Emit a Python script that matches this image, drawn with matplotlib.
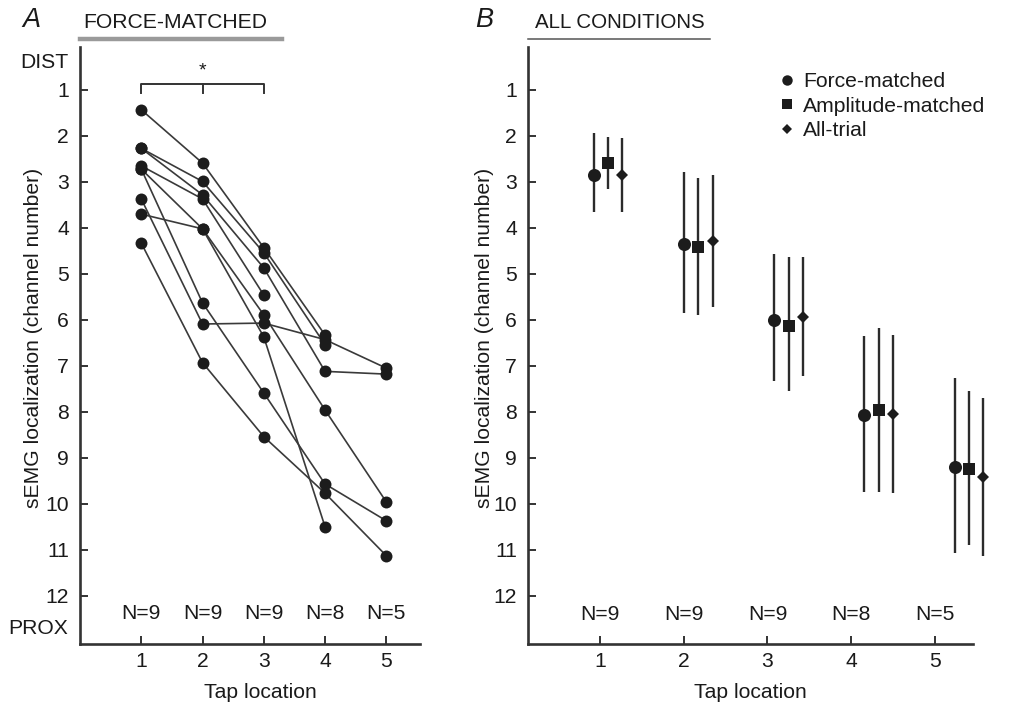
import numpy as np
import matplotlib
matplotlib.use('Agg')
import matplotlib.pyplot as plt
from matplotlib.lines import Line2D

plt.rcParams['font.family'] = ['Liberation Sans', 'DejaVu Sans']

# ---------------- data ----------------
taps = [1, 2, 3, 4, 5]
n_labels = ['N=9', 'N=9', 'N=9', 'N=8', 'N=5']

# Panel A: force-matched localization per subject (channel number), nan = no data
subj1 = [1.43, 2.59, 4.43, 6.33, np.nan]
subj2 = [2.27, 2.99, 4.54, 6.54, np.nan]
subj3 = [2.27, 3.28, 4.87, 7.12, 7.18]
subj4 = [2.65, 3.37, 5.46, np.nan, np.nan]
subj5 = [2.72, 4.02, 5.89, 7.96, 9.96]
subj6 = [2.72, 5.63, 7.59, 9.57, 10.37]
subj7 = [3.37, 6.09, 6.07, 6.43, 7.05]
subj8 = [3.70, 4.02, 6.37, 10.50, np.nan]
subj9 = [4.33, 6.93, 8.54, 9.77, 11.13]

# Panel B: means with error bar ends (low = distal end, high = proximal end)
fm_mean = [2.85, 4.36, 6.01, 8.08, 9.19]
fm_low = [1.94, 2.78, 4.57, 6.36, 7.27]
fm_high = [3.66, 5.84, 7.34, 9.74, 11.07]

am_mean = [2.59, 4.42, 6.14, 7.97, 9.24]
am_low = [2.03, 2.92, 4.64, 6.17, 7.54]
am_high = [3.16, 5.90, 7.54, 9.74, 10.89]

at_mean = [2.85, 4.29, 5.94, 8.04, 9.41]
at_low = [2.05, 2.85, 4.64, 6.32, 7.69]
at_high = [3.66, 5.72, 7.23, 9.76, 11.13]

series_names = ['Force-matched', 'Amplitude-matched', 'All-trial']

# ---------------- layout / style ----------------
W, H = 1018, 708
fig = plt.figure(figsize=(W / 100, H / 100), dpi=100)


def fx(px):
    return px / W


def fy(py):
    return 1 - py / H


axA = fig.add_axes([fx(80), fy(644), fx(420) - fx(80), fy(47) - fy(644)])
axB = fig.add_axes([fx(528), fy(644), fx(973) - fx(528), fy(47) - fy(644)])

AX_COL = '#333333'
MK_COL = '#1c1c1c'
LN_COL = '#3a3a3a'
TXT_COL = '#1a1a1a'
FS = 15.2

for ax in (axA, axB):
    for s in ('top', 'right'):
        ax.spines[s].set_visible(False)
    for s in ('left', 'bottom'):
        ax.spines[s].set_linewidth(1.9)
        ax.spines[s].set_color(AX_COL)
    ax.tick_params(direction='in', length=6, width=1.4, color=AX_COL,
                   labelsize=FS, labelcolor=TXT_COL)
    ax.tick_params(axis='y', pad=8.0)
    ax.tick_params(axis='x', pad=6)
    ax.set_yticks(range(1, 13))
    ax.set_ylim(13.05, 0.065)

# ---------- Panel A ----------
subjects = [subj1, subj2, subj3, subj4, subj5, subj6, subj7, subj8, subj9]
for row in subjects:
    axA.plot(taps, row, '-', color=LN_COL, lw=1.2, zorder=2)
for row in subjects:
    axA.plot(taps, row, 'o', color=MK_COL, ms=8.6, mew=0, zorder=3)

axA.set_xlim(0.0, 5.55)
axA.set_xticks(taps)
for t, lab in zip(taps, n_labels):
    axA.text(t, 12.38, lab, ha='center', va='center', fontsize=FS, color=TXT_COL)

# significance bracket between tap 1 and 3
bx = [taps[0], taps[0], taps[2], taps[2]]
by = [1.065, 0.87, 0.87, 1.065]
axA.plot(bx, by, color=AX_COL, lw=1.4, clip_on=False)
axA.plot([taps[1], taps[1]], [0.87, 1.065], color=AX_COL, lw=1.4, clip_on=False)
axA.text(taps[1], 0.58, '*', ha='center', va='center', fontsize=14, color=TXT_COL)

# ---------- Panel B ----------
off = 0.16
b_tick_start, b_tick_step = 0.911, 0.928
tp = np.array(taps, dtype=float)
specs = [
    (fm_mean, fm_low, fm_high, -off, 'o', 9.4),
    (am_mean, am_low, am_high, 0.0, 's', 8.0),
    (at_mean, at_low, at_high, off, 'D', 6.2),
]
for mean, low, high, dx, mk, ms in specs:
    m = np.array(mean)
    yerr = [m - np.array(low), np.array(high) - m]
    eb = axB.errorbar(tp + dx, m, yerr=yerr, fmt=mk, color=MK_COL, ecolor='#2b2b2b',
                      ms=ms, mew=0, elinewidth=1.7, capsize=2.9, capthick=1.6, zorder=3)
    for art in eb.lines[0:1] + tuple(eb.lines[1]) + tuple(eb.lines[2]):
        art.set_clip_on(False)

axB.set_xlim(0.114, 5.044)
bticks = b_tick_start + b_tick_step * (tp - 1)
axB.set_xticks(bticks)
axB.set_xticklabels([str(t) for t in taps])
for t, lab in zip(bticks, n_labels):
    axB.text(t, 12.40, lab, ha='center', va='center', fontsize=FS, color=TXT_COL)

handles = [
    Line2D([], [], ls='none', marker='o', color=MK_COL, ms=7.5, mew=0),
    Line2D([], [], ls='none', marker='s', color=MK_COL, ms=7.0, mew=0),
    Line2D([], [], ls='none', marker='D', color=MK_COL, ms=5.2, mew=0),
]
leg = fig.legend(handles, series_names, loc='upper left',
                 bbox_to_anchor=(fx(779), fy(72)), frameon=False, fontsize=FS,
                 handlelength=0.8, handletextpad=0.35, labelspacing=0.27,
                 borderpad=0, borderaxespad=0)
for t in leg.get_texts():
    t.set_color(TXT_COL)

# ---------- figure texts ----------
ylab = 'sEMG localization (channel number)'
fig.text(fx(34), fy(338), ylab, rotation=90, ha='center', va='center',
         fontsize=FS, color=TXT_COL)
fig.text(fx(484), fy(338), ylab, rotation=90, ha='center', va='center',
         fontsize=FS, color=TXT_COL)
fig.text(fx(260), fy(692), 'Tap location', ha='center', va='center',
         fontsize=FS, color=TXT_COL)
fig.text(fx(750), fy(692), 'Tap location', ha='center', va='center',
         fontsize=FS, color=TXT_COL)

fig.text(fx(68), fy(63), 'DIST', ha='right', va='center', fontsize=FS, color=TXT_COL)
fig.text(fx(68), fy(628), 'PROX', ha='right', va='center', fontsize=FS, color=TXT_COL)

fig.text(fx(22), fy(20), 'A', ha='left', va='center', fontsize=19.5, style='italic',
         color=TXT_COL)
fig.text(fx(83), fy(22), 'FORCE-MATCHED', ha='left', va='center', fontsize=FS,
         color=TXT_COL)
fig.add_artist(Line2D([fx(80), fx(282)], [fy(39), fy(39)], color='#9a9a9a', lw=3.2))

fig.text(fx(475), fy(20), 'B', ha='left', va='center', fontsize=19.5, style='italic',
         color=TXT_COL)
fig.text(fx(535), fy(22), 'ALL CONDITIONS', ha='left', va='center', fontsize=14.8,
         color=TXT_COL)
fig.add_artist(Line2D([fx(528), fx(710)], [fy(39), fy(39)], color='#555555', lw=1.1))

fig.savefig('out.png', dpi=100)
